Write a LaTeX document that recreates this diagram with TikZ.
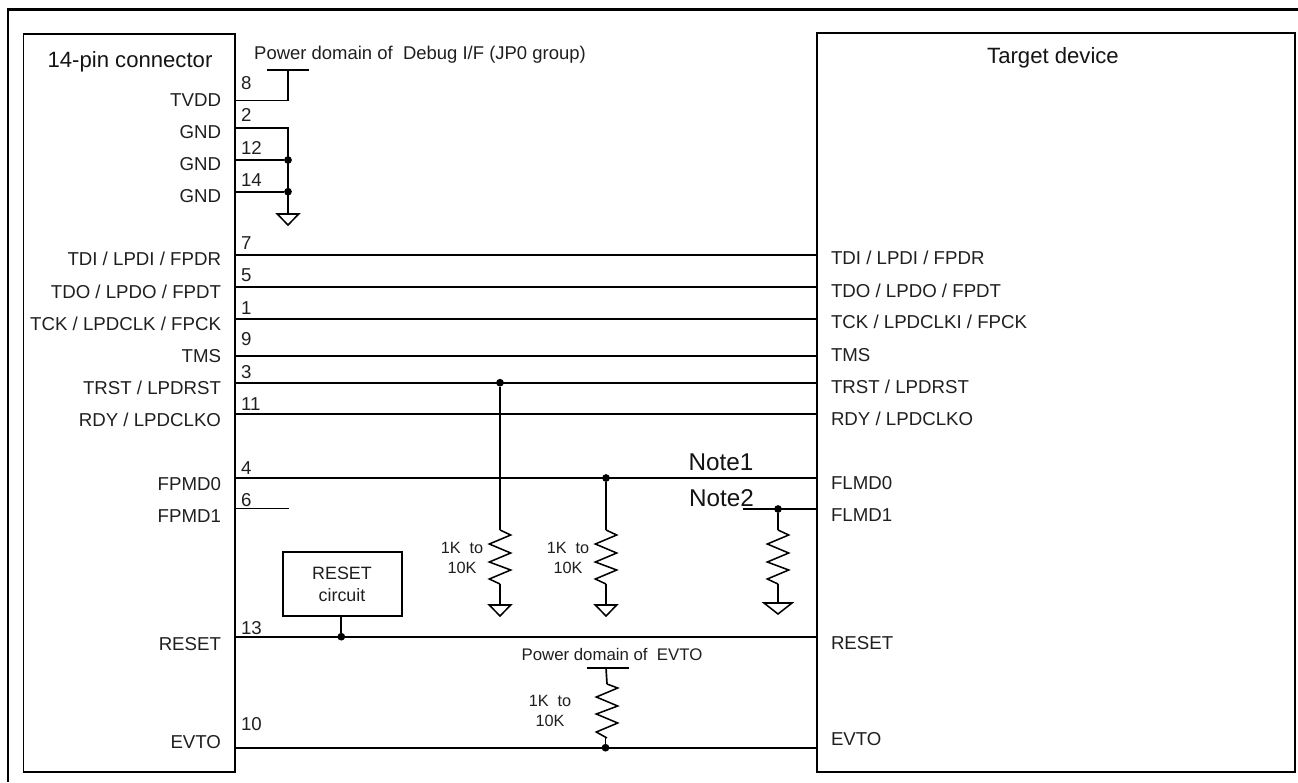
\documentclass[tikz,border=0pt]{standalone}
\usepackage{fontspec}
\setmainfont{Liberation Sans}
\newcommand{\fpx}[1]{\fontsize{#1}{#1}\selectfont}
\tikzset{
  wire/.style={line width=1.25pt,line cap=butt,line join=miter},
  box/.style={draw,line width=1.25pt,rectangle,inner sep=0pt,outer sep=0pt,fill=none},
  dotj/.style={circle,fill=black,draw=none,inner sep=0pt,outer sep=0pt,minimum size=5.8pt},
  sig/.style={font=\fpx{14},inner sep=0pt,outer sep=0pt,yshift=-4.9pt,text=black!88},
  lsig/.style={sig,anchor=base east},
  rsig/.style={sig,anchor=base west},
  pin/.style={sig,anchor=base west},
  title/.style={font=\fpx{16.6},inner sep=0pt,outer sep=0pt,yshift=-5.9pt,anchor=base,text=black!92},
  note/.style={font=\fpx{18.2},inner sep=0pt,outer sep=0pt,yshift=-6.5pt,anchor=base,text=black!92},
  small/.style={font=\fpx{12.2},inner sep=0pt,outer sep=0pt,yshift=-4.4pt,anchor=base,text=black!88},
  resistor/.pic={
    \draw[wire,line width=1.15pt] (0,0) -- (10.7,5) -- (-10.7,14) -- (10.7,23) -- (-10.7,32) -- (10.7,40) -- (-10.7,49) -- (0,54);
  },
  resistorb/.pic={
    \draw[wire,line width=1.15pt] (0,0) -- (10.7,4) -- (-10.7,13) -- (10.7,22) -- (-10.7,30) -- (10.7,39) -- (-10.7,48) -- (0,54);
  },
  gnd/.pic={
    \draw[wire,line width=1.15pt,line join=miter] (-10.7,0) -- (10.7,0) -- (0,11) -- cycle;
  },
  gndw/.pic={
    \draw[wire,line width=1.15pt,line join=miter] (-14,0) -- (14,0) -- (0,11) -- cycle;
  },
}
\begin{document}
\begin{tikzpicture}[x=0.75pt,y=-0.75pt]
\useasboundingbox (0,0) rectangle (1298,782);
% outer frame
\coordinate (frA) at (1298,9.5);
\coordinate (frB) at (8,9.5);
\coordinate (frC) at (8,782);
\draw[line width=1.8pt,line join=miter] (frA) -- (frB) -- (frC);
% boxes
\node[box,minimum width=158.6pt,minimum height=553.3pt] (conn) at (129.25,402.85) {};
\node[box,minimum width=358.5pt,minimum height=554.25pt] (target) at (1056,402.5) {};
\node[box,minimum width=88.8pt,minimum height=47.55pt] (rst) at (342.5,584) {};
\node[title] (tconn) at (130,60) {14-pin connector};
\node[title] (ttarget) at (1053,55.7) {Target device};
\node[font=\fpx{13.4},anchor=base,inner sep=0pt,yshift=-4.8pt,text=black!88] (rstA) at (342,572.7) {RESET};
\node[font=\fpx{13.4},anchor=base,inner sep=0pt,yshift=-4.8pt,text=black!88] (rstB) at (342,595) {circuit};
% power
\coordinate (p8) at (235,100.5);
\coordinate (p8c) at (288,100.5);
\coordinate (tv) at (288,70);
\coordinate (tvL) at (267,70);
\coordinate (tvR) at (309,70);
\draw[wire] (p8) -- (p8c) -- (tv);
\draw[wire] (tvL) -- (tvR);
\node[font=\fpx{13.85},anchor=base,inner sep=0pt,yshift=-5pt,text=black!88] (pd) at (420,53) {Power domain of\ \ Debug I/F (JP0 group)};
% grounds
\coordinate (p2) at (235,127.7);
\coordinate (p2c) at (288,127.7);
\coordinate (p12) at (235,160);
\coordinate (p14) at (235,191.7);
\coordinate (gtop) at (288,214);
\node[dotj] (d12) at (288,160) {};
\node[dotj] (d14) at (288,191.7) {};
\draw[wire] (p2) -- (p2c) -- (gtop);
\draw[wire] (p12) -- (d12);
\draw[wire] (p14) -- (d14);
\pic at (gtop) {gnd};
% signal lines
\foreach \n/\y in {7/255,5/286.7,1/319,9/355.7,3/382.7,11/414,4/478,13/636.7,10/747.7}{
  \coordinate (p\n) at (235,\y);
  \coordinate (t\n) at (817,\y);
  \draw[wire] (p\n) -- (t\n);
}
% FPMD1 stub
\coordinate (p6) at (235,508.7);
\coordinate (p6e) at (288.5,508.7);
\draw[wire,line width=1pt] (p6) -- (p6e);
% FLMD1
\coordinate (n2s) at (742.7,509);
\coordinate (t6) at (817,509);
\draw[wire] (n2s) -- (t6);
% junctions
\node[dotj] (d3) at (500,382.7) {};
\node[dotj] (d4) at (606,478) {};
\node[dotj] (d6) at (778,509) {};
\node[dotj] (d13) at (341.3,636.7) {};
\node[dotj] (d10) at (605.5,747.7) {};
\draw[wire] (rst.south -| d13) -- (d13);
% pull-downs
\coordinate (r1t) at (500,530);
\coordinate (r1b) at (500,584);
\coordinate (g1) at (500,605);
\coordinate (r2t) at (606,530);
\coordinate (r2b) at (606,584);
\coordinate (g2) at (606,605);
\coordinate (r3t) at (778,530);
\coordinate (r3b) at (778,584);
\coordinate (g3) at (778,603);
\draw[wire] (d3) -- (r1t); \pic at (r1t) {resistor}; \draw[wire] (r1b) -- (g1); \pic at (g1) {gnd};
\draw[wire] (d4) -- (r2t); \pic at (r2t) {resistor}; \draw[wire] (r2b) -- (g2); \pic at (g2) {gnd};
\draw[wire] (d6) -- (r3t); \pic at (r3t) {resistor}; \draw[wire] (r3b) -- (g3); \pic at (g3) {gndw};
% EVTO pull-up
\coordinate (evL) at (586.7,667.7);
\coordinate (evR) at (629,667.7);
\coordinate (evT) at (606,667.7);
\coordinate (r4t) at (607,684);
\coordinate (r4b) at (605.5,738);
\draw[wire] (evL) -- (evR);
\draw[wire] (evT) -- (r4t);
\pic at (r4t) {resistorb};
\draw[wire] (r4b) -- (d10);
\node[small,font=\fpx{12.6}] (pe) at (612,655) {Power domain of\ \ EVTO};
% resistor labels
\node[small] (a1) at (462,548) {1K\ \ to};
\node[small] (a2) at (462,568) {10K};
\node[small] (b1) at (568,548) {1K\ \ to};
\node[small] (b2) at (568,568) {10K};
\node[small] (c1) at (550,700.7) {1K\ \ to};
\node[small] (c2) at (550,721) {10K};
% notes
\node[note] (n1) at (721,461.7) {Note1};
\node[note] (n2) at (721.5,497.7) {Note2};
% left labels
\foreach \nm/\y/\t in {a/100/{TVDD},b/131.7/{GND},c/163.7/{GND},d/196/{GND},e/259.3/{TDI / LPDI / FPDR},f/291.7/{TDO / LPDO / FPDT},g/324/{TCK / LPDCLK / FPCK},h/356/{TMS},i/387.7/{TRST / LPDRST},j/420/{RDY / LPDCLKO},k/484/{FPMD0},l/516/{FPMD1},m/644/{RESET},n/741.7/{EVTO}}{
  \node[lsig] (L\nm) at (221,\y) {\t};
}
% right labels
\foreach \nm/\y/\t in {e/258/{TDI / LPDI / FPDR},f/290.7/{TDO / LPDO / FPDT},g/322/{TCK / LPDCLKI / FPCK},h/354.7/{TMS},i/386.7/{TRST / LPDRST},j/419/{RDY / LPDCLKO},k/482.7/{FLMD0},l/515/{FLMD1},m/643/{RESET},n/739/{EVTO}}{
  \node[rsig] (R\nm) at (831,\y) {\t};
}
% pin numbers
\foreach \n/\y in {8/83,2/115,12/147.7,14/180,7/243,5/275,1/308,9/339,3/371.7,11/404,4/467.7,6/500,13/628,10/724}{
  \node[pin] (N\n) at (241,\y) {\n};
}
\end{tikzpicture}
\end{document}
